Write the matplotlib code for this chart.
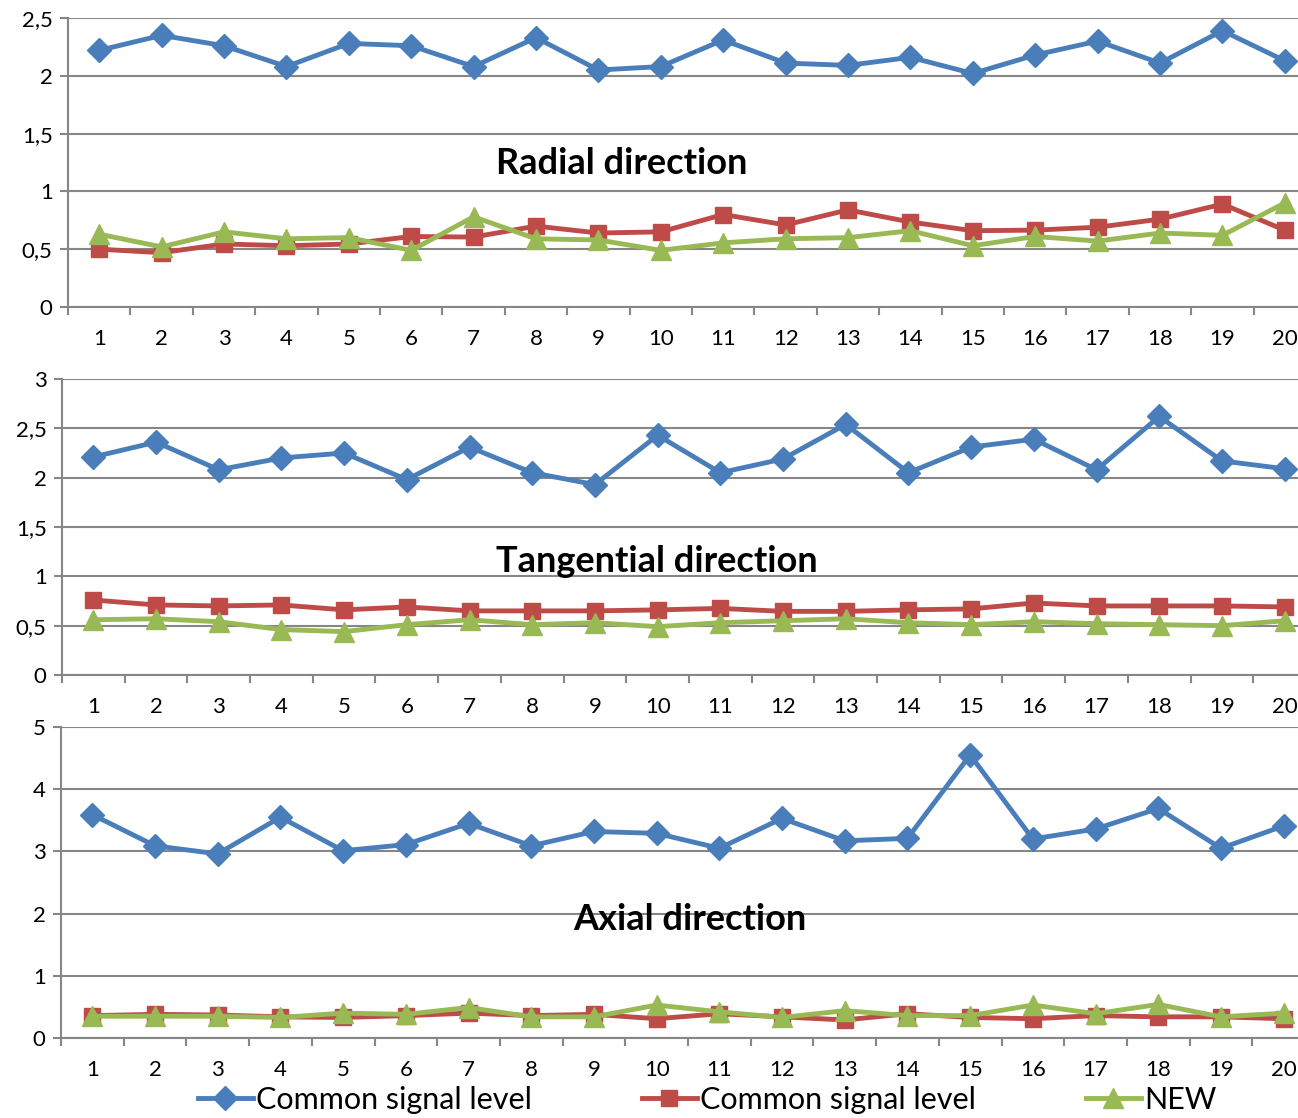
import matplotlib
matplotlib.use("Agg")
import matplotlib.pyplot as plt
from matplotlib.ticker import FuncFormatter, MultipleLocator, FixedLocator

plt.rcParams["font.family"] = ["Lato", "DejaVu Sans"]

samples = list(range(1, 21))

# radial direction
radial_common = [2.22, 2.35, 2.26, 2.08, 2.28, 2.26, 2.08, 2.33, 2.05, 2.08,
                 2.31, 2.11, 2.09, 2.16, 2.02, 2.18, 2.30, 2.11, 2.39, 2.13]
radial_common2 = [0.50, 0.47, 0.545, 0.53, 0.545, 0.61, 0.605, 0.70, 0.64, 0.65,
                  0.80, 0.71, 0.84, 0.735, 0.66, 0.665, 0.69, 0.76, 0.89, 0.665]
radial_new = [0.63, 0.52, 0.65, 0.59, 0.60, 0.49, 0.78, 0.59, 0.58, 0.49,
              0.555, 0.59, 0.60, 0.66, 0.53, 0.61, 0.57, 0.64, 0.62, 0.90]

# tangential direction
tang_common = [2.21, 2.36, 2.08, 2.20, 2.25, 1.98, 2.31, 2.05, 1.93, 2.43,
               2.05, 2.19, 2.54, 2.05, 2.31, 2.39, 2.08, 2.62, 2.17, 2.09]
tang_common2 = [0.76, 0.71, 0.70, 0.71, 0.66, 0.69, 0.65, 0.65, 0.65, 0.66,
                0.675, 0.645, 0.645, 0.66, 0.67, 0.73, 0.70, 0.70, 0.70, 0.69]
tang_new = [0.56, 0.57, 0.54, 0.46, 0.44, 0.51, 0.56, 0.51, 0.53, 0.49,
            0.53, 0.55, 0.57, 0.53, 0.51, 0.54, 0.52, 0.51, 0.50, 0.55]

# axial direction
axial_common = [3.59, 3.09, 2.96, 3.55, 3.01, 3.11, 3.45, 3.09, 3.32, 3.29,
                3.05, 3.53, 3.17, 3.21, 4.55, 3.20, 3.36, 3.69, 3.05, 3.41]
axial_common2 = [0.36, 0.38, 0.37, 0.34, 0.33, 0.36, 0.40, 0.36, 0.38, 0.31,
                 0.39, 0.34, 0.29, 0.39, 0.33, 0.31, 0.36, 0.34, 0.34, 0.31]
axial_new = [0.35, 0.35, 0.35, 0.33, 0.40, 0.38, 0.49, 0.34, 0.34, 0.53,
             0.42, 0.33, 0.44, 0.36, 0.36, 0.53, 0.39, 0.54, 0.34, 0.40]

labels = ["Common signal level", "Common signal level", "NEW"]
titles = ["Radial direction", "Tangential direction", "Axial direction"]

BLUE = "#4a7ebb"
RED = "#be4b48"
GREEN = "#98b954"
GRID = "#868686"

W, H = 1298, 1118
fig = plt.figure(figsize=(W / 100, H / 100), dpi=100)


def px_axes(left, top, bottom, unit):
    # axes box given in pixels, width spans 20 categories
    return fig.add_axes([left / W, 1 - bottom / H, 20 * unit / W, (bottom - top) / H])


panels = [
    (px_axes(68, 18, 307, 62.4), radial_common, radial_common2, radial_new, 2.5, 0.5),
    (px_axes(62, 379, 675, 62.7), tang_common, tang_common2, tang_new, 3.0, 0.5),
    (px_axes(61, 727, 1038, 62.7), axial_common, axial_common2, axial_new, 5.0, 1.0),
]

fmt = FuncFormatter(lambda v, _: f"{v:g}".replace(".", ","))

handles = []
for ax, s1, s2, s3, ymax, step in panels:
    h1, = ax.plot(samples, s1, color=BLUE, lw=3.5, marker="D", ms=12, zorder=3)
    h2, = ax.plot(samples, s2, color=RED, lw=3.5, marker="s", ms=12, zorder=4)
    h3, = ax.plot(samples, s3, color=GREEN, lw=3.5, marker="^", ms=14, zorder=5)
    handles = [h1, h2, h3]

    ax.set_xlim(0.5, 20.5)
    ax.set_ylim(0, ymax)
    ax.yaxis.set_major_locator(MultipleLocator(step))
    ax.yaxis.set_major_formatter(fmt)
    ax.grid(axis="y", color=GRID, lw=1.5)
    ax.set_axisbelow(True)

    ax.set_xticks(samples)
    ax.xaxis.set_minor_locator(FixedLocator([i + 0.5 for i in range(0, 21)]))
    ax.tick_params(axis="x", which="major", length=0, pad=16, labelsize=16)
    ax.tick_params(axis="x", which="minor", length=6, width=1.5, color=GRID)
    ax.tick_params(axis="y", length=6, width=1.5, color=GRID, pad=5, labelsize=16)

    for side in ["top", "right"]:
        ax.spines[side].set_visible(False)
    for side in ["left", "bottom"]:
        ax.spines[side].set_color(GRID)
        ax.spines[side].set_linewidth(1.5)

title_pos = [(622, 163), (657, 562), (690, 920)]
for t, (x, y) in zip(titles, title_pos):
    fig.text(x / W, 1 - y / H, t, ha="center", va="center",
             fontsize=26, fontweight="bold")

fig.legend(handles, labels, loc="center", bbox_to_anchor=(707 / W, 1 - 1100 / H),
           ncol=3, frameon=False, fontsize=22, handlelength=1.8,
           handletextpad=0.1, columnspacing=3.6)

fig.savefig("out.png", dpi=100)
